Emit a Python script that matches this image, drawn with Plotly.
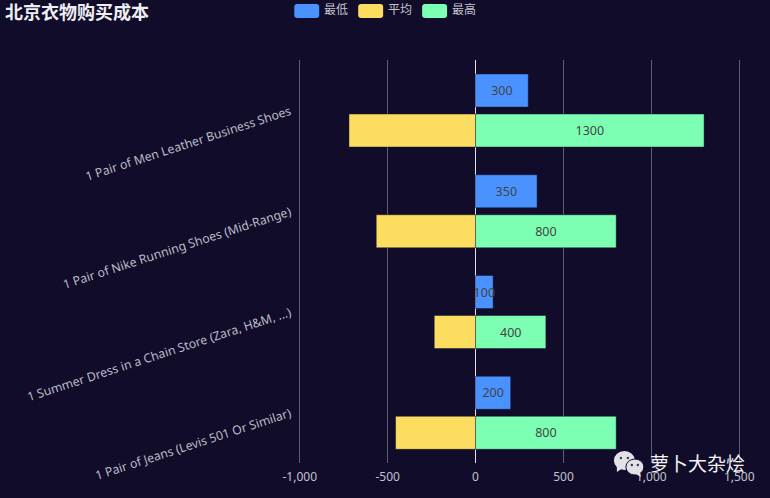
import plotly.graph_objects as go

W, H = 770, 498
BG = "#100c2a"
FONT = "Noto Sans, Noto Sans CJK SC, sans-serif"
# range runs a little past the end ticks, otherwise plotly drops their gridlines
PLOT_L, PLOT_R, PLOT_T, PLOT_B = 297.74, 741.26, 60, 463

categories = [
    "1 Pair of Men Leather Business Shoes",
    "1 Pair of Nike Running Shoes (Mid-Range)",
    "1 Summer Dress in a Chain Store (Zara, H&M, ...)",
    "1 Pair of Jeans (Levis 501 Or Similar)",
]
lowest = [300, 350, 100, 200]
average = [-720, -565, -235, -455]
highest = [1300, 800, 400, 800]
x_ticks = [-1000, -500, 0, 500, 1000, 1500]
x_tick_labels = ["-1,000", "-500", "0", "500", "1,000", "1,500"]
legend_names = ["最低", "平均", "最高"]
legend_colors = ["#4992ff", "#fddd60", "#7cffb2"]


# paper coords are relative to the plot area, so convert from page pixels
def px(x):
    return (x - PLOT_L) / (PLOT_R - PLOT_L)


def py(y):
    return (PLOT_B - y) / (PLOT_B - PLOT_T)


def bar(name, values, color, offset, show_text=True):
    return go.Bar(
        name=name,
        y=categories,
        x=values,
        orientation="h",
        width=0.328,
        offset=offset,
        marker=dict(color=color, line=dict(width=1, color="rgba(16,12,42,0.45)")),
        text=values if show_text else None,
        textposition="inside" if show_text else "none",
        insidetextanchor="middle",
        constraintext="none",
        textangle=0,
        insidetextfont=dict(color="#444444", size=12.5, family=FONT),
        cliponaxis=False,
    )


fig = go.Figure()
fig.add_trace(bar(legend_names[0], lowest, legend_colors[0], -0.361))
fig.add_trace(bar(legend_names[1], average, legend_colors[1], 0.036, show_text=False))
fig.add_trace(bar(legend_names[2], highest, legend_colors[2], 0.036))

shapes = []
annotations = []

# legend drawn by hand, plotly can't do the wide rounded swatches
for name, color, left in zip(legend_names, legend_colors, [294, 358, 422]):
    right, top, bottom, r = left + 25, 4, 18, 3
    path = (
        f"M{px(left + r)},{py(top)} L{px(right - r)},{py(top)} "
        f"Q{px(right)},{py(top)} {px(right)},{py(top + r)} "
        f"L{px(right)},{py(bottom - r)} Q{px(right)},{py(bottom)} {px(right - r)},{py(bottom)} "
        f"L{px(left + r)},{py(bottom)} Q{px(left)},{py(bottom)} {px(left)},{py(bottom - r)} "
        f"L{px(left)},{py(top + r)} Q{px(left)},{py(top)} {px(left + r)},{py(top)} Z"
    )
    shapes.append(dict(type="path", xref="paper", yref="paper", path=path,
                       fillcolor=color, line=dict(width=0), layer="above"))
    annotations.append(dict(text=name, xref="paper", yref="paper", x=px(left + 28), y=py(10),
                            xanchor="left", yanchor="middle", showarrow=False,
                            font=dict(size=12, color="#c4c3cc", family=FONT)))

# wechat watermark
for x0, y0, x1, y1, line in [(614, 451, 635, 470, None), (626, 459, 644, 475, BG)]:
    shapes.append(dict(type="circle", xref="paper", yref="paper",
                       x0=px(x0), x1=px(x1), y0=py(y0), y1=py(y1),
                       fillcolor="#e2e2e6",
                       line=dict(width=1 if line else 0, color=line or "#e2e2e6"), layer="above"))
shapes.append(dict(type="path", xref="paper", yref="paper",
                   path=f"M{px(617)},{py(466)} L{px(617)},{py(472)} L{px(623)},{py(468)} Z",
                   fillcolor="#e2e2e6", line=dict(width=0), layer="above"))
shapes.append(dict(type="path", xref="paper", yref="paper",
                   path=f"M{px(640)},{py(472)} L{px(641)},{py(477)} L{px(636)},{py(474)} Z",
                   fillcolor="#e2e2e6", line=dict(width=0), layer="above"))
for cx, cy in [(621, 458), (628, 458), (632, 465), (638, 465)]:
    shapes.append(dict(type="circle", xref="paper", yref="paper",
                       x0=px(cx - 1.2), x1=px(cx + 1.2), y0=py(cy - 1.2), y1=py(cy + 1.2),
                       fillcolor="#3a3848", line=dict(width=0), layer="above"))

annotations.append(dict(text="<b>北京衣物购买成本</b>", xref="paper", yref="paper",
                        x=px(2), y=py(12), xanchor="left", yanchor="middle", showarrow=False,
                        font=dict(size=18, color="#eeeef2", family=FONT)))
annotations.append(dict(text="萝卜大杂烩", xref="paper", yref="paper",
                        x=px(648), y=py(464), xanchor="left", yanchor="middle", showarrow=False,
                        font=dict(size=19, color="#f2f2f2", family=FONT)))

fig.update_layout(
    width=W,
    height=H,
    margin=dict(l=PLOT_L, r=W - PLOT_R, t=PLOT_T, b=H - PLOT_B, pad=0),
    paper_bgcolor=BG,
    plot_bgcolor=BG,
    barmode="overlay",
    showlegend=False,
    font=dict(family=FONT, color="#c4c3cc", size=12),
    shapes=shapes,
    annotations=annotations,
    xaxis=dict(
        range=[-1010, 1510],
        tickvals=x_ticks,
        ticktext=x_tick_labels,
        showgrid=True,
        gridcolor="#5f5d72",
        gridwidth=1,
        zeroline=True,
        zerolinecolor="#e0e0e6",
        zerolinewidth=1,
        showline=False,
        ticks="",
        ticklabelstandoff=5,
        tickfont=dict(size=12, color="#c4c3cc"),
    ),
    yaxis=dict(
        autorange="reversed",
        tickangle=-18,
        showgrid=False,
        zeroline=False,
        showline=False,
        ticks="",
        ticklabelstandoff=7,
        tickfont=dict(size=12.25, color="#bcbbc6"),
    ),
)

fig.write_html(
    "out.html",
    config={"displayModeBar": False},
    post_script="document.body.style.margin='0';document.body.style.background='#100c2a';",
)
